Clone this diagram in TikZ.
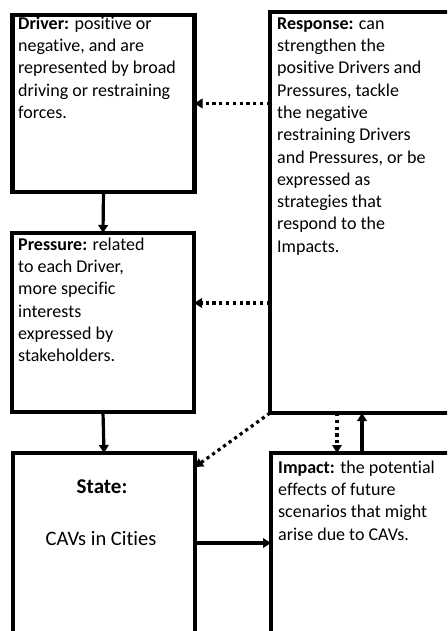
\documentclass[tikz,border=0pt]{standalone}
\usepackage{fontspec}
\setmainfont{Carlito}[Ligatures=NoCommon]
\usetikzlibrary{arrows.meta}
\newcommand{\firstline}{\rule{0pt}{13pt}}
\begin{document}
\begin{tikzpicture}[x=1pt,y=-1pt,
  box/.style={draw=black, line width=4.2pt, fill=white, rectangle, inner sep=0pt, outer sep=0pt},
  txt/.style={font=\fontsize{18}{22.3}\selectfont, align=left, inner sep=0pt, anchor=north west},
  link/.style={line width=3.2pt, -{Triangle[length=8pt,width=9.5pt]}},
  dotlink/.style={link, dash pattern=on 3.2pt off 3.6pt}]
\fill[white] (0,0) rectangle (447,631);
\useasboundingbox (0,0) rectangle (447,631);
\clip (0,0) rectangle (447,631);

% the five DPSIR boxes
\node[box, minimum width=182pt, minimum height=177pt] (driver)   at (103.5,103.5) {};
\node[box, minimum width=182pt, minimum height=179pt] (pressure) at (103,322.5) {};
\node[box, minimum width=182pt, minimum height=247pt] (state)    at (104,576.5) {};
\node[box, minimum width=200pt, minimum height=401pt] (response) at (370,212.5) {};
\node[box, minimum width=199pt, minimum height=247pt] (impact)   at (370.5,576.5) {};

% box texts (first baseline 13pt below the node top)
\node[txt] (drivertext) at (18,16) {\firstline\textbf{Driver:} positive or\\negative, and are\\represented by broad\\driving or restraining\\forces.};
\node[txt] (pressuretext) at (18,237) {\firstline\textbf{Pressure:} related\\to each Driver,\\more specific\\interests\\expressed by\\stakeholders.};
\node[txt] (responsetext) at (277,16) {\firstline\textbf{Response:} can\\strengthen the\\positive Drivers and\\Pressures, tackle\\the negative\\restraining Drivers\\and Pressures, or be\\expressed as\\strategies that\\respond to the\\Impacts.};
\node[txt] (impacttext) at (278,460) {\firstline\textbf{Impact:} the potential\\effects of future\\scenarios that might\\arise due to CAVs.};
\node[inner sep=0pt, anchor=base, font=\fontsize{21}{25}\selectfont\bfseries] (statetitle) at (102,493) {State:};
\node[inner sep=0pt, anchor=base, font=\fontsize{20.5}{25}\selectfont] (statetext) at (101,545) {CAVs in Cities};

% causal chain
\draw[link] (driver.south) -- (pressure.north);
\draw[link] (pressure.south) -- (state.north);
\draw[link] (state.east |- 0,543) -- (impact.west |- 0,543);
\draw[link] (impact.north -| 362,0) -- (response.south -| 362,0);

% response feedback
\draw[dotlink] (response.south -| 337,0) -- (impact.north -| 337,0);
\draw[dotlink] (response.west |- driver.east) -- (driver.east);
\draw[dotlink] (response.west |- 0,303) -- (pressure.east |- 0,303);
\draw[dotlink] (response.south west) -- ([yshift=-14pt]state.north east);
\end{tikzpicture}
\end{document}
